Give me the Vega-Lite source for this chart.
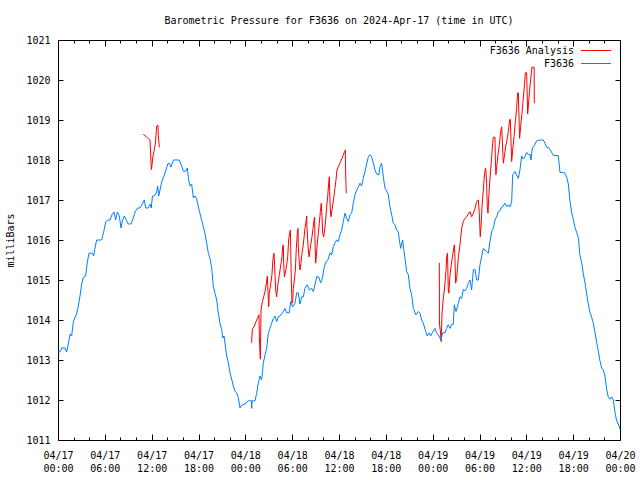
{
  "$schema": "https://vega.github.io/schema/vega-lite/v6.json",
  "width": 562,
  "height": 400,
  "autosize": "none",
  "padding": {"left": 58, "top": 40, "right": 20, "bottom": 40},
  "background": "white",
  "title": {
    "text": "Barometric Pressure for F3636 on 2024-Apr-17 (time in UTC)",
    "font": "DejaVu Sans Mono",
    "fontSize": 10,
    "fontWeight": "normal",
    "color": "black",
    "baseline": "alphabetic",
    "offset": 1
  },
  "config": {
    "view": {"stroke": null},
    "axis": {
      "domainColor": "black",
      "tickColor": "black",
      "labelColor": "black",
      "titleColor": "black",
      "labelFont": "DejaVu Sans Mono",
      "labelFontSize": 10,
      "titleFont": "DejaVu Sans Mono",
      "titleFontSize": 10,
      "titleFontWeight": "normal",
      "grid": false
    }
  },
  "datasets": {
    "analysis": [
      {"hours": 10.93, "mbar": 1018.64, "seg": 1},
      {"hours": 11.27, "mbar": 1018.59, "seg": 1},
      {"hours": 11.57, "mbar": 1018.53, "seg": 1},
      {"hours": 11.79, "mbar": 1018.5, "seg": 1},
      {"hours": 11.87, "mbar": 1018.15, "seg": 1},
      {"hours": 11.96, "mbar": 1017.76, "seg": 1},
      {"hours": 12.04, "mbar": 1017.86, "seg": 1},
      {"hours": 12.13, "mbar": 1018.05, "seg": 1},
      {"hours": 12.3, "mbar": 1018.22, "seg": 1},
      {"hours": 12.47, "mbar": 1018.4, "seg": 1},
      {"hours": 12.6, "mbar": 1018.73, "seg": 1},
      {"hours": 12.64, "mbar": 1018.85, "seg": 1},
      {"hours": 12.81, "mbar": 1018.87, "seg": 1},
      {"hours": 12.85, "mbar": 1018.6, "seg": 1},
      {"hours": 12.94, "mbar": 1018.4, "seg": 1},
      {"hours": 12.98, "mbar": 1018.32, "seg": 1},
      {"hours": 24.81, "mbar": 1013.43, "seg": 2},
      {"hours": 24.9, "mbar": 1013.77, "seg": 2},
      {"hours": 25.11, "mbar": 1013.83, "seg": 2},
      {"hours": 25.37, "mbar": 1013.96, "seg": 2},
      {"hours": 25.62, "mbar": 1014.07, "seg": 2},
      {"hours": 25.75, "mbar": 1014.13, "seg": 2},
      {"hours": 25.79, "mbar": 1013.6, "seg": 2},
      {"hours": 25.92, "mbar": 1013.02, "seg": 2},
      {"hours": 25.96, "mbar": 1013.58, "seg": 2},
      {"hours": 26.01, "mbar": 1014.25, "seg": 2},
      {"hours": 26.18, "mbar": 1014.46, "seg": 2},
      {"hours": 26.35, "mbar": 1014.58, "seg": 2},
      {"hours": 26.52, "mbar": 1014.71, "seg": 2},
      {"hours": 26.69, "mbar": 1014.92, "seg": 2},
      {"hours": 26.82, "mbar": 1015.1, "seg": 2},
      {"hours": 26.9, "mbar": 1014.71, "seg": 2},
      {"hours": 26.99, "mbar": 1014.33, "seg": 2},
      {"hours": 27.07, "mbar": 1014.67, "seg": 2},
      {"hours": 27.24, "mbar": 1014.88, "seg": 2},
      {"hours": 27.41, "mbar": 1015.13, "seg": 2},
      {"hours": 27.54, "mbar": 1015.52, "seg": 2},
      {"hours": 27.67, "mbar": 1015.67, "seg": 2},
      {"hours": 27.76, "mbar": 1015.33, "seg": 2},
      {"hours": 27.89, "mbar": 1014.75, "seg": 2},
      {"hours": 28.01, "mbar": 1014.58, "seg": 2},
      {"hours": 28.1, "mbar": 1014.75, "seg": 2},
      {"hours": 28.19, "mbar": 1014.92, "seg": 2},
      {"hours": 28.36, "mbar": 1015.13, "seg": 2},
      {"hours": 28.57, "mbar": 1015.42, "seg": 2},
      {"hours": 28.7, "mbar": 1015.58, "seg": 2},
      {"hours": 28.78, "mbar": 1015.83, "seg": 2},
      {"hours": 28.87, "mbar": 1015.88, "seg": 2},
      {"hours": 28.91, "mbar": 1015.42, "seg": 2},
      {"hours": 29.0, "mbar": 1015.08, "seg": 2},
      {"hours": 29.12, "mbar": 1015.17, "seg": 2},
      {"hours": 29.3, "mbar": 1015.38, "seg": 2},
      {"hours": 29.43, "mbar": 1015.58, "seg": 2},
      {"hours": 29.55, "mbar": 1016.0, "seg": 2},
      {"hours": 29.68, "mbar": 1016.17, "seg": 2},
      {"hours": 29.77, "mbar": 1016.25, "seg": 2},
      {"hours": 29.81, "mbar": 1015.83, "seg": 2},
      {"hours": 29.89, "mbar": 1015.0, "seg": 2},
      {"hours": 29.98, "mbar": 1014.42, "seg": 2},
      {"hours": 30.06, "mbar": 1014.46, "seg": 2},
      {"hours": 30.15, "mbar": 1014.79, "seg": 2},
      {"hours": 30.28, "mbar": 1015.0, "seg": 2},
      {"hours": 30.41, "mbar": 1015.25, "seg": 2},
      {"hours": 30.53, "mbar": 1015.79, "seg": 2},
      {"hours": 30.66, "mbar": 1016.17, "seg": 2},
      {"hours": 30.75, "mbar": 1016.29, "seg": 2},
      {"hours": 30.79, "mbar": 1015.83, "seg": 2},
      {"hours": 30.92, "mbar": 1015.42, "seg": 2},
      {"hours": 31.0, "mbar": 1015.25, "seg": 2},
      {"hours": 31.13, "mbar": 1015.42, "seg": 2},
      {"hours": 31.26, "mbar": 1015.67, "seg": 2},
      {"hours": 31.39, "mbar": 1015.83, "seg": 2},
      {"hours": 31.51, "mbar": 1016.04, "seg": 2},
      {"hours": 31.64, "mbar": 1016.29, "seg": 2},
      {"hours": 31.77, "mbar": 1016.46, "seg": 2},
      {"hours": 31.86, "mbar": 1016.6, "seg": 2},
      {"hours": 31.9, "mbar": 1016.33, "seg": 2},
      {"hours": 31.99, "mbar": 1016.0, "seg": 2},
      {"hours": 32.07, "mbar": 1015.75, "seg": 2},
      {"hours": 32.16, "mbar": 1015.58, "seg": 2},
      {"hours": 32.28, "mbar": 1015.75, "seg": 2},
      {"hours": 32.41, "mbar": 1015.92, "seg": 2},
      {"hours": 32.54, "mbar": 1016.08, "seg": 2},
      {"hours": 32.67, "mbar": 1016.29, "seg": 2},
      {"hours": 32.8, "mbar": 1016.5, "seg": 2},
      {"hours": 32.88, "mbar": 1016.57, "seg": 2},
      {"hours": 32.92, "mbar": 1016.0, "seg": 2},
      {"hours": 33.01, "mbar": 1015.42, "seg": 2},
      {"hours": 33.09, "mbar": 1015.58, "seg": 2},
      {"hours": 33.22, "mbar": 1015.92, "seg": 2},
      {"hours": 33.35, "mbar": 1016.17, "seg": 2},
      {"hours": 33.48, "mbar": 1016.42, "seg": 2},
      {"hours": 33.61, "mbar": 1016.71, "seg": 2},
      {"hours": 33.73, "mbar": 1016.92, "seg": 2},
      {"hours": 33.82, "mbar": 1016.58, "seg": 2},
      {"hours": 33.91, "mbar": 1016.17, "seg": 2},
      {"hours": 34.04, "mbar": 1016.08, "seg": 2},
      {"hours": 34.16, "mbar": 1016.25, "seg": 2},
      {"hours": 34.29, "mbar": 1016.5, "seg": 2},
      {"hours": 34.42, "mbar": 1016.83, "seg": 2},
      {"hours": 34.55, "mbar": 1017.08, "seg": 2},
      {"hours": 34.68, "mbar": 1017.43, "seg": 2},
      {"hours": 34.76, "mbar": 1017.58, "seg": 2},
      {"hours": 34.8, "mbar": 1017.21, "seg": 2},
      {"hours": 34.89, "mbar": 1016.75, "seg": 2},
      {"hours": 34.97, "mbar": 1016.58, "seg": 2},
      {"hours": 35.1, "mbar": 1016.75, "seg": 2},
      {"hours": 35.23, "mbar": 1016.92, "seg": 2},
      {"hours": 35.35, "mbar": 1017.08, "seg": 2},
      {"hours": 35.48, "mbar": 1017.29, "seg": 2},
      {"hours": 35.61, "mbar": 1017.5, "seg": 2},
      {"hours": 35.74, "mbar": 1017.75, "seg": 2},
      {"hours": 35.87, "mbar": 1017.82, "seg": 2},
      {"hours": 36.04, "mbar": 1017.88, "seg": 2},
      {"hours": 36.21, "mbar": 1017.96, "seg": 2},
      {"hours": 36.38, "mbar": 1018.04, "seg": 2},
      {"hours": 36.55, "mbar": 1018.13, "seg": 2},
      {"hours": 36.72, "mbar": 1018.21, "seg": 2},
      {"hours": 36.81, "mbar": 1018.25, "seg": 2},
      {"hours": 36.85, "mbar": 1017.71, "seg": 2},
      {"hours": 36.89, "mbar": 1017.42, "seg": 2},
      {"hours": 36.93, "mbar": 1017.17, "seg": 2},
      {"hours": 48.85, "mbar": 1015.43, "seg": 3},
      {"hours": 48.87, "mbar": 1013.9, "seg": 3},
      {"hours": 49.0, "mbar": 1013.7, "seg": 3},
      {"hours": 49.08, "mbar": 1013.46, "seg": 3},
      {"hours": 49.2, "mbar": 1014.17, "seg": 3},
      {"hours": 49.36, "mbar": 1014.54, "seg": 3},
      {"hours": 49.5, "mbar": 1014.75, "seg": 3},
      {"hours": 49.7, "mbar": 1015.21, "seg": 3},
      {"hours": 49.8, "mbar": 1015.58, "seg": 3},
      {"hours": 49.9, "mbar": 1015.67, "seg": 3},
      {"hours": 50.0, "mbar": 1014.75, "seg": 3},
      {"hours": 50.08, "mbar": 1014.67, "seg": 3},
      {"hours": 50.2, "mbar": 1015.08, "seg": 3},
      {"hours": 50.35, "mbar": 1015.33, "seg": 3},
      {"hours": 50.5, "mbar": 1015.54, "seg": 3},
      {"hours": 50.6, "mbar": 1015.67, "seg": 3},
      {"hours": 50.78, "mbar": 1015.88, "seg": 3},
      {"hours": 50.86, "mbar": 1015.5, "seg": 3},
      {"hours": 50.94, "mbar": 1014.92, "seg": 3},
      {"hours": 51.07, "mbar": 1015.04, "seg": 3},
      {"hours": 51.2, "mbar": 1015.33, "seg": 3},
      {"hours": 51.3, "mbar": 1015.58, "seg": 3},
      {"hours": 51.5, "mbar": 1015.88, "seg": 3},
      {"hours": 51.6, "mbar": 1016.08, "seg": 3},
      {"hours": 51.75, "mbar": 1016.33, "seg": 3},
      {"hours": 51.93, "mbar": 1016.47, "seg": 3},
      {"hours": 52.14, "mbar": 1016.54, "seg": 3},
      {"hours": 52.35, "mbar": 1016.58, "seg": 3},
      {"hours": 52.57, "mbar": 1016.65, "seg": 3},
      {"hours": 52.78, "mbar": 1016.71, "seg": 3},
      {"hours": 52.99, "mbar": 1016.58, "seg": 3},
      {"hours": 53.21, "mbar": 1016.67, "seg": 3},
      {"hours": 53.42, "mbar": 1016.79, "seg": 3},
      {"hours": 53.63, "mbar": 1016.96, "seg": 3},
      {"hours": 53.85, "mbar": 1017.0, "seg": 3},
      {"hours": 53.97, "mbar": 1016.67, "seg": 3},
      {"hours": 54.1, "mbar": 1016.08, "seg": 3},
      {"hours": 54.19, "mbar": 1016.33, "seg": 3},
      {"hours": 54.32, "mbar": 1016.83, "seg": 3},
      {"hours": 54.49, "mbar": 1017.25, "seg": 3},
      {"hours": 54.6, "mbar": 1017.54, "seg": 3},
      {"hours": 54.74, "mbar": 1017.79, "seg": 3},
      {"hours": 54.8, "mbar": 1017.79, "seg": 3},
      {"hours": 54.91, "mbar": 1017.42, "seg": 3},
      {"hours": 55.0, "mbar": 1016.83, "seg": 3},
      {"hours": 55.09, "mbar": 1016.67, "seg": 3},
      {"hours": 55.17, "mbar": 1017.0, "seg": 3},
      {"hours": 55.3, "mbar": 1017.42, "seg": 3},
      {"hours": 55.43, "mbar": 1017.75, "seg": 3},
      {"hours": 55.56, "mbar": 1018.08, "seg": 3},
      {"hours": 55.68, "mbar": 1018.42, "seg": 3},
      {"hours": 55.77, "mbar": 1018.57, "seg": 3},
      {"hours": 55.98, "mbar": 1018.57, "seg": 3},
      {"hours": 56.03, "mbar": 1018.0, "seg": 3},
      {"hours": 56.1, "mbar": 1017.63, "seg": 3},
      {"hours": 56.2, "mbar": 1017.83, "seg": 3},
      {"hours": 56.37, "mbar": 1018.13, "seg": 3},
      {"hours": 56.54, "mbar": 1018.38, "seg": 3},
      {"hours": 56.71, "mbar": 1018.71, "seg": 3},
      {"hours": 56.84, "mbar": 1018.83, "seg": 3},
      {"hours": 56.92, "mbar": 1018.5, "seg": 3},
      {"hours": 57.05, "mbar": 1017.92, "seg": 3},
      {"hours": 57.18, "mbar": 1018.08, "seg": 3},
      {"hours": 57.35, "mbar": 1018.33, "seg": 3},
      {"hours": 57.52, "mbar": 1018.5, "seg": 3},
      {"hours": 57.69, "mbar": 1018.71, "seg": 3},
      {"hours": 57.86, "mbar": 1019.0, "seg": 3},
      {"hours": 57.95, "mbar": 1019.02, "seg": 3},
      {"hours": 58.03, "mbar": 1018.5, "seg": 3},
      {"hours": 58.12, "mbar": 1017.96, "seg": 3},
      {"hours": 58.25, "mbar": 1018.25, "seg": 3},
      {"hours": 58.42, "mbar": 1018.58, "seg": 3},
      {"hours": 58.59, "mbar": 1018.96, "seg": 3},
      {"hours": 58.76, "mbar": 1019.29, "seg": 3},
      {"hours": 58.89, "mbar": 1019.68, "seg": 3},
      {"hours": 58.97, "mbar": 1019.68, "seg": 3},
      {"hours": 59.06, "mbar": 1019.08, "seg": 3},
      {"hours": 59.14, "mbar": 1018.54, "seg": 3},
      {"hours": 59.27, "mbar": 1018.83, "seg": 3},
      {"hours": 59.44, "mbar": 1019.17, "seg": 3},
      {"hours": 59.61, "mbar": 1019.54, "seg": 3},
      {"hours": 59.78, "mbar": 1019.92, "seg": 3},
      {"hours": 59.87, "mbar": 1020.18, "seg": 3},
      {"hours": 60.04, "mbar": 1020.18, "seg": 3},
      {"hours": 60.13, "mbar": 1019.5, "seg": 3},
      {"hours": 60.17, "mbar": 1019.15, "seg": 3},
      {"hours": 60.25, "mbar": 1019.33, "seg": 3},
      {"hours": 60.38, "mbar": 1019.67, "seg": 3},
      {"hours": 60.55, "mbar": 1020.0, "seg": 3},
      {"hours": 60.72, "mbar": 1020.32, "seg": 3},
      {"hours": 61.0, "mbar": 1020.32, "seg": 3},
      {"hours": 61.02, "mbar": 1019.42, "seg": 3}
    ],
    "station": [
      {"hours": 0, "mbar": 1013.2}, {"hours": 0.26, "mbar": 1013.2}, {"hours": 0.47, "mbar": 1013.3}, {"hours": 0.9, "mbar": 1013.3},
      {"hours": 1.11, "mbar": 1013.2}, {"hours": 1.32, "mbar": 1013.4}, {"hours": 1.54, "mbar": 1013.65}, {"hours": 1.75, "mbar": 1013.6},
      {"hours": 1.96, "mbar": 1013.95}, {"hours": 2.18, "mbar": 1014.07}, {"hours": 2.39, "mbar": 1014.15}, {"hours": 2.6, "mbar": 1014.35},
      {"hours": 2.82, "mbar": 1014.6}, {"hours": 3.03, "mbar": 1014.9}, {"hours": 3.25, "mbar": 1015.07}, {"hours": 3.54, "mbar": 1015.1},
      {"hours": 3.76, "mbar": 1015.45}, {"hours": 3.97, "mbar": 1015.67}, {"hours": 4.4, "mbar": 1015.67}, {"hours": 4.57, "mbar": 1015.6},
      {"hours": 4.74, "mbar": 1015.8}, {"hours": 4.95, "mbar": 1016.0}, {"hours": 5.59, "mbar": 1016.0}, {"hours": 5.85, "mbar": 1016.2},
      {"hours": 6.11, "mbar": 1016.45}, {"hours": 6.36, "mbar": 1016.5}, {"hours": 6.66, "mbar": 1016.5}, {"hours": 6.96, "mbar": 1016.65},
      {"hours": 7.17, "mbar": 1016.7}, {"hours": 7.39, "mbar": 1016.5}, {"hours": 7.6, "mbar": 1016.7}, {"hours": 7.86, "mbar": 1016.6},
      {"hours": 8.07, "mbar": 1016.3}, {"hours": 8.28, "mbar": 1016.5}, {"hours": 8.5, "mbar": 1016.6}, {"hours": 8.8, "mbar": 1016.48},
      {"hours": 9.01, "mbar": 1016.4}, {"hours": 9.35, "mbar": 1016.4}, {"hours": 9.65, "mbar": 1016.55}, {"hours": 9.86, "mbar": 1016.7},
      {"hours": 10.21, "mbar": 1016.8}, {"hours": 10.5, "mbar": 1016.8}, {"hours": 10.8, "mbar": 1016.9}, {"hours": 11.06, "mbar": 1017.0},
      {"hours": 11.23, "mbar": 1016.8}, {"hours": 11.57, "mbar": 1016.8}, {"hours": 11.83, "mbar": 1016.9}, {"hours": 11.95, "mbar": 1016.8},
      {"hours": 12.1, "mbar": 1017.1}, {"hours": 12.21, "mbar": 1017.1}, {"hours": 12.43, "mbar": 1017.12}, {"hours": 12.64, "mbar": 1017.2},
      {"hours": 12.77, "mbar": 1017.35}, {"hours": 12.9, "mbar": 1017.1}, {"hours": 13.07, "mbar": 1017.25}, {"hours": 13.28, "mbar": 1017.45},
      {"hours": 13.58, "mbar": 1017.6}, {"hours": 13.84, "mbar": 1017.75}, {"hours": 14.05, "mbar": 1017.9}, {"hours": 14.26, "mbar": 1017.92},
      {"hours": 14.48, "mbar": 1017.82}, {"hours": 14.78, "mbar": 1018.0}, {"hours": 15.54, "mbar": 1018.0}, {"hours": 15.8, "mbar": 1017.87},
      {"hours": 16.06, "mbar": 1017.72}, {"hours": 16.36, "mbar": 1017.72}, {"hours": 16.57, "mbar": 1017.8}, {"hours": 16.74, "mbar": 1017.5},
      {"hours": 16.91, "mbar": 1017.35}, {"hours": 17.12, "mbar": 1017.4}, {"hours": 17.34, "mbar": 1017.05}, {"hours": 17.55, "mbar": 1017.1},
      {"hours": 17.76, "mbar": 1017.03}, {"hours": 17.98, "mbar": 1016.83}, {"hours": 18.19, "mbar": 1016.66}, {"hours": 18.4, "mbar": 1016.5},
      {"hours": 18.62, "mbar": 1016.33}, {"hours": 18.83, "mbar": 1016.16}, {"hours": 19.05, "mbar": 1015.92}, {"hours": 19.26, "mbar": 1015.67},
      {"hours": 19.47, "mbar": 1015.54}, {"hours": 19.69, "mbar": 1015.3}, {"hours": 19.9, "mbar": 1014.84}, {"hours": 20.11, "mbar": 1014.67},
      {"hours": 20.33, "mbar": 1014.5}, {"hours": 20.54, "mbar": 1014.17}, {"hours": 20.75, "mbar": 1013.92}, {"hours": 20.97, "mbar": 1013.76},
      {"hours": 21.1, "mbar": 1013.55}, {"hours": 21.27, "mbar": 1013.6}, {"hours": 21.44, "mbar": 1013.35}, {"hours": 21.61, "mbar": 1013.1},
      {"hours": 21.82, "mbar": 1012.93}, {"hours": 22.03, "mbar": 1012.68}, {"hours": 22.25, "mbar": 1012.52}, {"hours": 22.46, "mbar": 1012.35},
      {"hours": 22.68, "mbar": 1012.22}, {"hours": 22.89, "mbar": 1012.18}, {"hours": 23.1, "mbar": 1012.06}, {"hours": 23.32, "mbar": 1011.8},
      {"hours": 23.53, "mbar": 1011.87}, {"hours": 23.96, "mbar": 1011.9}, {"hours": 24.38, "mbar": 1011.98}, {"hours": 24.78, "mbar": 1011.98},
      {"hours": 24.82, "mbar": 1011.79}, {"hours": 24.86, "mbar": 1011.98}, {"hours": 25.24, "mbar": 1011.98}, {"hours": 25.45, "mbar": 1012.17},
      {"hours": 25.66, "mbar": 1012.42}, {"hours": 25.88, "mbar": 1012.6}, {"hours": 26.09, "mbar": 1012.5}, {"hours": 26.3, "mbar": 1012.92},
      {"hours": 26.52, "mbar": 1013.13}, {"hours": 26.73, "mbar": 1013.29}, {"hours": 26.95, "mbar": 1013.67}, {"hours": 27.16, "mbar": 1013.79},
      {"hours": 27.37, "mbar": 1013.92}, {"hours": 27.59, "mbar": 1014.04}, {"hours": 27.8, "mbar": 1014.1}, {"hours": 28.01, "mbar": 1013.96},
      {"hours": 28.23, "mbar": 1014.08}, {"hours": 28.44, "mbar": 1014.1}, {"hours": 28.78, "mbar": 1014.18}, {"hours": 29.08, "mbar": 1014.29},
      {"hours": 29.29, "mbar": 1014.18}, {"hours": 29.63, "mbar": 1014.18}, {"hours": 29.81, "mbar": 1014.46}, {"hours": 30.06, "mbar": 1014.33},
      {"hours": 30.36, "mbar": 1014.42}, {"hours": 30.58, "mbar": 1014.68}, {"hours": 30.79, "mbar": 1014.68}, {"hours": 31.0, "mbar": 1014.4},
      {"hours": 31.22, "mbar": 1014.58}, {"hours": 31.43, "mbar": 1014.58}, {"hours": 31.64, "mbar": 1014.79}, {"hours": 31.94, "mbar": 1014.88},
      {"hours": 32.2, "mbar": 1014.75}, {"hours": 32.5, "mbar": 1014.79}, {"hours": 32.71, "mbar": 1014.71}, {"hours": 32.92, "mbar": 1014.88},
      {"hours": 33.14, "mbar": 1015.08}, {"hours": 33.39, "mbar": 1015.08}, {"hours": 33.65, "mbar": 1014.93}, {"hours": 33.91, "mbar": 1015.08},
      {"hours": 34.08, "mbar": 1015.29}, {"hours": 34.33, "mbar": 1015.46}, {"hours": 34.59, "mbar": 1015.5}, {"hours": 34.85, "mbar": 1015.68},
      {"hours": 35.06, "mbar": 1015.63}, {"hours": 35.27, "mbar": 1015.83}, {"hours": 35.49, "mbar": 1015.93}, {"hours": 35.7, "mbar": 1016.0},
      {"hours": 35.91, "mbar": 1015.96}, {"hours": 36.13, "mbar": 1016.13}, {"hours": 36.34, "mbar": 1016.25}, {"hours": 36.55, "mbar": 1016.46},
      {"hours": 36.77, "mbar": 1016.67}, {"hours": 36.98, "mbar": 1016.54}, {"hours": 37.19, "mbar": 1016.46}, {"hours": 37.41, "mbar": 1016.63},
      {"hours": 37.62, "mbar": 1016.67}, {"hours": 37.83, "mbar": 1016.92}, {"hours": 38.05, "mbar": 1017.13}, {"hours": 38.26, "mbar": 1017.25},
      {"hours": 38.47, "mbar": 1017.32}, {"hours": 38.69, "mbar": 1017.42}, {"hours": 38.9, "mbar": 1017.35}, {"hours": 39.11, "mbar": 1017.54},
      {"hours": 39.33, "mbar": 1017.71}, {"hours": 39.54, "mbar": 1017.9}, {"hours": 39.76, "mbar": 1018.08}, {"hours": 39.97, "mbar": 1018.13},
      {"hours": 40.18, "mbar": 1018.08}, {"hours": 40.4, "mbar": 1017.92}, {"hours": 40.61, "mbar": 1017.75}, {"hours": 40.82, "mbar": 1017.65},
      {"hours": 41.12, "mbar": 1017.63}, {"hours": 41.25, "mbar": 1017.83}, {"hours": 41.46, "mbar": 1017.92}, {"hours": 41.68, "mbar": 1017.58},
      {"hours": 41.89, "mbar": 1017.29}, {"hours": 42.1, "mbar": 1017.23}, {"hours": 42.32, "mbar": 1017.13}, {"hours": 42.53, "mbar": 1016.83},
      {"hours": 42.75, "mbar": 1016.63}, {"hours": 42.96, "mbar": 1016.42}, {"hours": 43.17, "mbar": 1016.38}, {"hours": 43.39, "mbar": 1016.25},
      {"hours": 43.6, "mbar": 1016.21}, {"hours": 43.73, "mbar": 1016.0}, {"hours": 43.9, "mbar": 1015.79}, {"hours": 44.15, "mbar": 1016.0},
      {"hours": 44.45, "mbar": 1015.54}, {"hours": 44.67, "mbar": 1015.21}, {"hours": 44.88, "mbar": 1015.13}, {"hours": 45.09, "mbar": 1014.79},
      {"hours": 45.31, "mbar": 1014.63}, {"hours": 45.52, "mbar": 1014.29}, {"hours": 45.86, "mbar": 1014.13}, {"hours": 46.16, "mbar": 1014.21},
      {"hours": 46.37, "mbar": 1014.17}, {"hours": 46.59, "mbar": 1014.0}, {"hours": 46.8, "mbar": 1013.92}, {"hours": 47.02, "mbar": 1013.77},
      {"hours": 47.31, "mbar": 1013.6}, {"hours": 47.53, "mbar": 1013.68}, {"hours": 47.74, "mbar": 1013.6}, {"hours": 47.95, "mbar": 1013.68},
      {"hours": 48.3, "mbar": 1013.79}, {"hours": 48.51, "mbar": 1013.68}, {"hours": 48.81, "mbar": 1013.6}, {"hours": 49.06, "mbar": 1013.5},
      {"hours": 49.28, "mbar": 1013.68}, {"hours": 49.58, "mbar": 1013.68}, {"hours": 49.79, "mbar": 1013.79}, {"hours": 50.0, "mbar": 1013.88},
      {"hours": 50.22, "mbar": 1013.79}, {"hours": 50.43, "mbar": 1013.89}, {"hours": 50.64, "mbar": 1013.89}, {"hours": 50.77, "mbar": 1014.38},
      {"hours": 50.99, "mbar": 1014.21}, {"hours": 51.29, "mbar": 1014.42}, {"hours": 51.5, "mbar": 1014.58}, {"hours": 51.71, "mbar": 1014.54},
      {"hours": 51.93, "mbar": 1014.77}, {"hours": 52.14, "mbar": 1014.73}, {"hours": 52.35, "mbar": 1014.79}, {"hours": 52.57, "mbar": 1014.92},
      {"hours": 52.78, "mbar": 1015.0}, {"hours": 52.99, "mbar": 1014.75}, {"hours": 53.21, "mbar": 1015.25}, {"hours": 53.42, "mbar": 1015.27},
      {"hours": 53.63, "mbar": 1015.0}, {"hours": 53.85, "mbar": 1015.0}, {"hours": 54.06, "mbar": 1015.38}, {"hours": 54.27, "mbar": 1015.58},
      {"hours": 54.49, "mbar": 1015.79}, {"hours": 54.7, "mbar": 1015.75}, {"hours": 54.91, "mbar": 1015.71}, {"hours": 55.13, "mbar": 1015.67},
      {"hours": 55.34, "mbar": 1015.96}, {"hours": 55.56, "mbar": 1016.21}, {"hours": 55.77, "mbar": 1016.29}, {"hours": 55.98, "mbar": 1016.5},
      {"hours": 56.2, "mbar": 1016.58}, {"hours": 56.41, "mbar": 1016.71}, {"hours": 56.62, "mbar": 1016.73}, {"hours": 56.84, "mbar": 1016.83},
      {"hours": 57.05, "mbar": 1016.85}, {"hours": 57.26, "mbar": 1016.92}, {"hours": 57.48, "mbar": 1016.83}, {"hours": 57.69, "mbar": 1016.88},
      {"hours": 57.9, "mbar": 1016.83}, {"hours": 58.12, "mbar": 1016.96}, {"hours": 58.25, "mbar": 1017.63}, {"hours": 58.55, "mbar": 1017.71},
      {"hours": 58.76, "mbar": 1017.63}, {"hours": 58.97, "mbar": 1017.54}, {"hours": 59.18, "mbar": 1017.75}, {"hours": 59.4, "mbar": 1018.1},
      {"hours": 59.61, "mbar": 1018.02}, {"hours": 59.83, "mbar": 1018.08}, {"hours": 60.04, "mbar": 1018.19}, {"hours": 60.25, "mbar": 1018.13},
      {"hours": 60.47, "mbar": 1018.15}, {"hours": 60.6, "mbar": 1018.0}, {"hours": 60.77, "mbar": 1018.3}, {"hours": 61.02, "mbar": 1018.36},
      {"hours": 61.32, "mbar": 1018.48}, {"hours": 61.75, "mbar": 1018.5}, {"hours": 62.17, "mbar": 1018.5}, {"hours": 62.39, "mbar": 1018.42},
      {"hours": 62.6, "mbar": 1018.32}, {"hours": 62.9, "mbar": 1018.3}, {"hours": 63.16, "mbar": 1018.22}, {"hours": 63.46, "mbar": 1018.11},
      {"hours": 64.1, "mbar": 1018.11}, {"hours": 64.31, "mbar": 1017.69}, {"hours": 64.86, "mbar": 1017.69}, {"hours": 65.16, "mbar": 1017.57},
      {"hours": 65.38, "mbar": 1017.4}, {"hours": 65.59, "mbar": 1016.98}, {"hours": 65.8, "mbar": 1016.69}, {"hours": 66.02, "mbar": 1016.52},
      {"hours": 66.23, "mbar": 1016.32}, {"hours": 66.45, "mbar": 1016.19}, {"hours": 66.66, "mbar": 1016.07}, {"hours": 66.87, "mbar": 1015.61},
      {"hours": 67.09, "mbar": 1015.44}, {"hours": 67.3, "mbar": 1015.15}, {"hours": 67.51, "mbar": 1014.94}, {"hours": 67.73, "mbar": 1014.65},
      {"hours": 67.94, "mbar": 1014.4}, {"hours": 68.15, "mbar": 1014.19}, {"hours": 68.37, "mbar": 1014.07}, {"hours": 68.58, "mbar": 1013.92},
      {"hours": 68.79, "mbar": 1013.69}, {"hours": 69.01, "mbar": 1013.44}, {"hours": 69.22, "mbar": 1013.23}, {"hours": 69.43, "mbar": 1012.98},
      {"hours": 69.65, "mbar": 1012.8}, {"hours": 69.86, "mbar": 1012.75}, {"hours": 70.07, "mbar": 1012.6}, {"hours": 70.29, "mbar": 1012.27},
      {"hours": 70.5, "mbar": 1012.07}, {"hours": 70.72, "mbar": 1012.02}, {"hours": 70.93, "mbar": 1012.08}, {"hours": 71.14, "mbar": 1012.0},
      {"hours": 71.36, "mbar": 1011.69}, {"hours": 71.57, "mbar": 1011.48}, {"hours": 71.78, "mbar": 1011.4}, {"hours": 72.0, "mbar": 1011.27}
    ]
  },
  "layer": [
    {
      "data": {"name": "analysis"},
      "mark": {"type": "line", "strokeWidth": 1},
      "encoding": {
        "x": {
          "field": "hours", "type": "quantitative",
          "scale": {"domain": [0, 72], "nice": false, "zero": false},
          "axis": {
            "orient": "bottom", "title": null,
            "values": [0,2,4,6,8,10,12,14,16,18,20,22,24,26,28,30,32,34,36,38,40,42,44,46,48,50,52,54,56,58,60,62,64,66,68,70,72],
            "labelExpr": "datum.value % 6 == 0 ? ['04/' + (17 + floor(datum.value / 24)), (datum.value % 24 < 10 ? '0' : '') + (datum.value % 24) + ':00'] : ''",
            "labelOverlap": false, "labelFlush": false,
            "labelLineHeight": 13, "labelPadding": 16,
            "tickSize": {"condition": {"test": "datum.value % 6 == 0", "value": -6}, "value": -3}
          }
        },
        "y": {
          "field": "mbar", "type": "quantitative",
          "scale": {"domain": [1011, 1021], "nice": false, "zero": false},
          "axis": {
            "orient": "left",
            "values": [1011,1012,1013,1014,1015,1016,1017,1018,1019,1020,1021],
            "format": "d", "tickSize": -5, "labelPadding": 13,
            "title": "milliBars", "titleX": -48, "titleY": 200, "titleAngle": -90,
            "titleAlign": "center", "titleBaseline": "middle"
          }
        },
        "color": {
          "datum": "F3636 Analysis",
          "scale": {"domain": ["F3636 Analysis", "F3636"], "range": ["#ff0000", "#0080ff"]},
          "legend": {
            "orient": "none", "legendX": 516, "legendY": 4,
            "title": null, "symbolType": "stroke", "symbolSize": 121, "symbolStrokeWidth": 1,
            "labelFont": "DejaVu Sans Mono", "labelFontSize": 10, "labelColor": "black",
            "clipHeight": 13, "rowPadding": 0, "padding": 0,
            "encode": {
              "entries": {"update": {"width": {"value": 40}}},
              "labels": {"update": {"x": {"value": 0}, "align": {"value": "right"}}},
              "symbols": {"update": {"x": {"value": 22}, "size": {"value": 900}}}
            }
          }
        },
        "detail": {"field": "seg", "type": "nominal"}
      }
    },
    {
      "data": {"name": "station"},
      "mark": {"type": "line", "strokeWidth": 1},
      "encoding": {
        "x": {
          "field": "hours", "type": "quantitative",
          "axis": {
            "orient": "top", "title": null, "labels": false,
            "values": [0,2,4,6,8,10,12,14,16,18,20,22,24,26,28,30,32,34,36,38,40,42,44,46,48,50,52,54,56,58,60,62,64,66,68,70,72],
            "tickSize": {"condition": {"test": "datum.value % 6 == 0", "value": -6}, "value": -3}
          }
        },
        "y": {
          "field": "mbar", "type": "quantitative",
          "axis": {
            "orient": "right", "title": null, "labels": false,
            "values": [1011,1012,1013,1014,1015,1016,1017,1018,1019,1020,1021],
            "tickSize": -5
          }
        },
        "color": {"datum": "F3636"}
      }
    }
  ],
  "resolve": {"axis": {"x": "independent", "y": "independent"}}
}
